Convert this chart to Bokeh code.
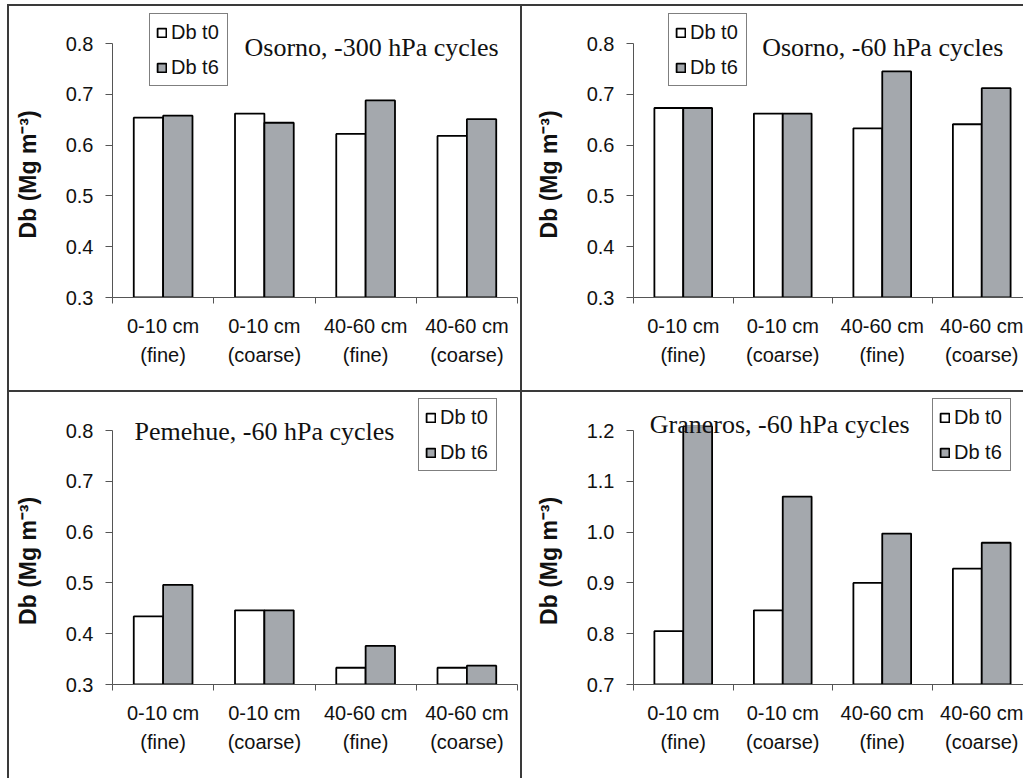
from bokeh.plotting import figure
from bokeh.models import (Range1d, FixedTicker, NumeralTickFormatter, Legend,
                          LegendItem, Label, Spacer)
from bokeh.layouts import row, column
from bokeh.embed import file_html
from bokeh.resources import INLINE

# ---------------- data ----------------
categories = ["0-10 cm\n(fine)", "0-10 cm\n(coarse)", "40-60 cm\n(fine)", "40-60 cm\n(coarse)"]
series_names = ["Db t0", "Db t6"]
titles = ["Osorno, -300 hPa cycles", "Osorno, -60 hPa cycles",
          "Pemehue, -60 hPa cycles", "Graneros, -60 hPa cycles"]

osorno300_t0 = [0.654, 0.662, 0.622, 0.618]
osorno300_t6 = [0.658, 0.644, 0.688, 0.651]
osorno60_t0 = [0.673, 0.662, 0.633, 0.641]
osorno60_t6 = [0.673, 0.662, 0.745, 0.712]
pemehue_t0 = [0.434, 0.446, 0.333, 0.333]
pemehue_t6 = [0.496, 0.446, 0.376, 0.337]
graneros_t0 = [0.805, 0.846, 0.900, 0.928]
graneros_t6 = [1.215, 1.070, 0.997, 0.979]

y_ticks_low = [0.3, 0.4, 0.5, 0.6, 0.7, 0.8]
y_ticks_high = [0.7, 0.8, 0.9, 1.0, 1.1, 1.2]

y_label = "Db (Mg m\u207b\u00b3)"

# ---------------- style ----------------
PX_PER_Y = 508.0
BAR_W = 0.29
GRAY = "#a4a8ad"
LINE = "#3a3a3a"
AXIS_COL = "#555555"
SANS = "Liberation Sans"
SERIF = "Liberation Serif"
PLOT_AREA_OVERSHOOT = 0.008   # plot area reaches a little above the top tick


def make_panel(title, t0, t6, yticks, w, h, bl, br, bt, bb, unit_x, title_pos, legend_pos,
               clip_bars=False):
    y0, y1 = yticks[0], yticks[-1]
    frame_w = w - bl - br
    frame_h = h - bt - bb
    p = figure(width=w, height=h, output_backend="svg", toolbar_location=None,
               x_range=Range1d(0, frame_w / unit_x),
               y_range=Range1d(y0, y0 + frame_h / PX_PER_Y),
               min_border_left=bl, min_border_right=br,
               min_border_top=bt, min_border_bottom=bb)
    p.outline_line_color = None
    p.background_fill_color = "white"
    p.border_fill_color = "white"
    p.xgrid.visible = False
    p.ygrid.visible = False

    cap = y1 + PLOT_AREA_OVERSHOOT if clip_bars else float("inf")
    idx = list(range(len(categories)))
    x_a = [i + 0.5 - BAR_W / 2 for i in idx]
    x_b = [i + 0.5 + BAR_W / 2 for i in idx]
    r0 = p.vbar(x=x_a, top=[min(v, cap) for v in t0], bottom=y0, width=BAR_W,
                fill_color="white", line_color="black", line_width=1.8)
    r1 = p.vbar(x=x_b, top=[min(v, cap) for v in t6], bottom=y0, width=BAR_W,
                fill_color=GRAY, line_color="black", line_width=1.8)
    # bars running past the plot area are cut: hide their top edge
    inset = 1.0 / unit_x
    for xs, vals, col in ((x_a, t0, "white"), (x_b, t6, GRAY)):
        over = [x for x, v in zip(xs, vals) if v > cap]
        if over:
            p.segment(x0=[x - BAR_W / 2 + inset for x in over],
                      x1=[x + BAR_W / 2 - inset for x in over],
                      y0=[cap] * len(over), y1=[cap] * len(over),
                      line_color=col, line_width=2.6)

    # y axis
    ya = p.yaxis[0]
    ya.ticker = FixedTicker(ticks=yticks)
    ya.formatter = NumeralTickFormatter(format="0.0")
    ya.bounds = (y0, y1)
    ya.axis_line_color = AXIS_COL
    ya.major_tick_line_color = AXIS_COL
    ya.major_tick_out = 7
    ya.major_tick_in = 0
    ya.minor_tick_line_color = None
    ya.major_label_text_font = SANS
    ya.major_label_text_font_size = "20px"
    ya.major_label_text_color = "#111111"
    ya.major_label_standoff = 12
    ya.axis_label = y_label + "\u00a0" * 7
    ya.axis_label_text_font = SANS
    ya.axis_label_text_font_style = "bold"
    ya.axis_label_text_font_size = "23px"
    ya.axis_label_text_color = "#111111"
    ya.axis_label_standoff = 22

    # x axis
    xa = p.xaxis[0]
    xa.ticker = FixedTicker(ticks=[i + 0.5 for i in idx],
                            minor_ticks=list(range(len(categories) + 1)))
    xa.major_label_overrides = {i + 0.5: c for i, c in zip(idx, categories)}
    xa.axis_line_color = AXIS_COL
    xa.major_tick_line_color = None
    xa.major_tick_out = 0
    xa.major_tick_in = 0
    xa.minor_tick_line_color = AXIS_COL
    xa.minor_tick_out = 6
    xa.minor_tick_in = 0
    xa.major_label_text_font = SANS
    xa.major_label_text_font_size = "20px"
    xa.major_label_text_color = "#111111"
    xa.major_label_text_line_height = 1.33
    xa.major_label_standoff = 11

    legend = Legend(items=[LegendItem(label=series_names[0], renderers=[r0]),
                           LegendItem(label=series_names[1], renderers=[r1])],
                    location=legend_pos, orientation="vertical",
                    glyph_width=11, glyph_height=11, label_height=24, label_width=50,
                    label_standoff=4, spacing=11, padding=6, margin=0,
                    label_text_font=SANS, label_text_font_size="20px",
                    label_text_color="#111111",
                    border_line_color="black", border_line_width=1,
                    background_fill_color="white", background_fill_alpha=1.0)
    p.add_layout(legend)

    p.add_layout(Label(x=title_pos[0], y=title_pos[1], x_units="screen", y_units="screen",
                       text=title, text_font=SERIF, text_font_size="26px",
                       text_color="#111111", text_baseline="alphabetic", text_align="left"))
    return p


tl = make_panel(titles[0], osorno300_t0, osorno300_t6, y_ticks_low,
                511, 384, 103, 3, 0, 93, 101.25, (132, 250.3), (37, 211))
tr = make_panel(titles[1], osorno60_t0, osorno60_t6, y_ticks_low,
                501, 384, 111, 0, 0, 93, 99.5, (128.7, 250.3), (35, 211))
bl_ = make_panel(titles[2], pemehue_t0, pemehue_t6, y_ticks_low,
                 511, 386, 103, 3, 0, 94, 101.25, (22, 252.7), (306, 213))
br_ = make_panel(titles[3], graneros_t0, graneros_t6, y_ticks_high,
                 501, 386, 111, 0, 0, 94, 99.5, (16.3, 260), (299, 213), clip_bars=True)


def line(w, h):
    return Spacer(width=w, height=h, styles={"background-color": LINE})


root = row(
    Spacer(width=7, height=778),
    column(Spacer(width=2, height=4), line(2, 774)),
    column(
        Spacer(width=1014, height=4),
        line(1014, 2),
        row(tl, line(2, 384), tr),
        line(1014, 2),
        row(bl_, line(2, 386), br_),
    ),
)

open("out.html", "w").write(file_html(root, INLINE))
